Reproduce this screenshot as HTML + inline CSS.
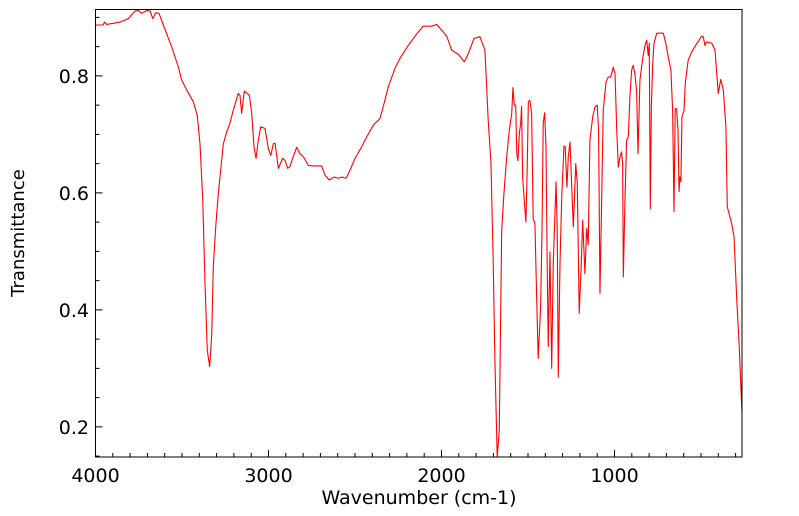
<!DOCTYPE html>
<html><head><meta charset="utf-8"><style>
html,body{margin:0;padding:0;background:#fff;}
svg{display:block;font-family:"DejaVu Sans","Liberation Sans",sans-serif;}
</style></head><body>
<svg id="chart" width="799" height="516">
<g id="ticks"></g>
<path id="line" fill="none" stroke="#ff0000" stroke-width="1.1" stroke-linejoin="round"/>
<rect x="95.5" y="9.5" width="646.5" height="447.5" fill="none" stroke="#000" stroke-width="1"/>
<g id="labels"></g>
<text x="419" y="504" font-size="19" text-anchor="middle">Wavenumber (cm-1)</text>
<text x="0" y="0" font-size="18" text-anchor="middle" transform="translate(24,233) rotate(-90)">Transmittance</text>
</svg>
<script>
const wavenumbers=[4000,3955,3949,3935,3858,3810,3772,3753,3733,3701,3685,3669,3652,3633,3608,3560,3521,3502,3473,3435,3412,3396,3380,3367,3354,3340,3328,3319,3305,3290,3261,3242,3223,3204,3175,3165,3155,3140,3111,3097,3084,3072,3059,3045,3020,3001,2987,2972,2962,2943,2918,2905,2889,2876,2857,2837,2818,2799,2770,2741,2693,2673,2649,2621,2597,2577,2552,2533,2500,2461,2432,2394,2356,2337,2308,2269,2240,2192,2143,2105,2057,2028,1999,1970,1941,1903,1868,1845,1812,1778,1749,1730,1714,1701,1691,1678,1666,1652,1639,1623,1608,1594,1587,1579,1571,1565,1558,1550,1542,1537,1531,1522,1512,1504,1498,1489,1479,1470,1460,1450,1441,1427,1419,1412,1404,1396,1389,1383,1373,1363,1354,1338,1331,1325,1315,1305,1292,1285,1275,1267,1257,1248,1238,1224,1215,1204,1192,1184,1171,1161,1152,1142,1126,1113,1100,1092,1084,1074,1065,1049,1036,1022,1007,997,987,978,968,959,953,949,939,930,920,911,901,892,882,872,864,853,837,824,814,805,799,793,787,779,772,756,718,703,689,674,664,656,649,641,633,627,622,616,610,598,591,574,554,525,496,487,477,467,438,419,409,400,386,371,356,348,323,309,294,279,263];
const transmittance=[0.887,0.887,0.892,0.888,0.892,0.898,0.911,0.912,0.907,0.912,0.911,0.898,0.908,0.907,0.887,0.85,0.815,0.793,0.776,0.756,0.733,0.684,0.588,0.445,0.331,0.303,0.36,0.474,0.542,0.599,0.684,0.704,0.719,0.741,0.77,0.767,0.736,0.774,0.767,0.736,0.679,0.659,0.69,0.713,0.71,0.676,0.664,0.684,0.685,0.642,0.659,0.656,0.642,0.645,0.662,0.678,0.667,0.662,0.647,0.646,0.646,0.63,0.622,0.627,0.625,0.627,0.625,0.636,0.659,0.679,0.696,0.716,0.727,0.747,0.781,0.813,0.83,0.852,0.872,0.885,0.885,0.888,0.878,0.868,0.844,0.837,0.824,0.838,0.864,0.867,0.844,0.724,0.65,0.479,0.309,0.14,0.194,0.536,0.599,0.662,0.707,0.736,0.78,0.75,0.75,0.667,0.655,0.702,0.719,0.748,0.627,0.588,0.55,0.65,0.756,0.758,0.736,0.556,0.548,0.422,0.317,0.405,0.536,0.719,0.737,0.679,0.479,0.337,0.499,0.3,0.479,0.619,0.536,0.285,0.479,0.593,0.68,0.679,0.61,0.662,0.687,0.616,0.542,0.65,0.616,0.394,0.479,0.553,0.462,0.539,0.511,0.69,0.73,0.747,0.75,0.707,0.428,0.593,0.741,0.79,0.798,0.798,0.815,0.804,0.707,0.644,0.662,0.67,0.65,0.456,0.593,0.69,0.696,0.764,0.81,0.818,0.804,0.773,0.667,0.793,0.83,0.852,0.861,0.835,0.856,0.573,0.747,0.821,0.855,0.873,0.873,0.855,0.832,0.81,0.741,0.568,0.744,0.744,0.707,0.602,0.627,0.619,0.73,0.741,0.787,0.827,0.841,0.855,0.868,0.867,0.852,0.858,0.856,0.844,0.804,0.77,0.794,0.776,0.713,0.576,0.548,0.525,0.422,0.337,0.223];
const xTickValues=[4000,3000,2000,1000];
const xTickLabels=["4000","3000","2000","1000"];
const yTickValues=[0.2,0.4,0.6,0.8];
const yTickLabels=["0.2","0.4","0.6","0.8"];

const L=95.5,R=742,T=9.5,B=457;
const wnMax=4000,wnMin=263,yMin=0.1485,yMax=0.9135;
function xs(w){return L+(wnMax-w)/(wnMax-wnMin)*(R-L);}
function ys(v){return B-(v-yMin)/(yMax-yMin)*(B-T);}
const NS="http://www.w3.org/2000/svg";
let d="";
for(let i=0;i<wavenumbers.length;i++){
  let y=Math.min(B,Math.max(T,ys(transmittance[i])));
  d+=(i?"L":"M")+xs(wavenumbers[i]).toFixed(2)+" "+y.toFixed(2);
}
document.getElementById('line').setAttribute('d',d);
const tg=document.getElementById('ticks'),lg=document.getElementById('labels');
function ln(x1,y1,x2,y2){const l=document.createElementNS(NS,'line');
l.setAttribute('x1',x1);l.setAttribute('y1',y1);l.setAttribute('x2',x2);l.setAttribute('y2',y2);
l.setAttribute('stroke','#000');l.setAttribute('stroke-width','1');


tg.appendChild(l);}
for(let w=4000;w>=wnMin;w-=100){const x=xs(w);const major=(w%1000===0);ln(x,B,x,B-(major?7:4));}
for(let v=0.15;v<=yMax;v+=0.05){const y=ys(v);const major=Math.abs(Math.round(v*10)/10-v)<1e-6&&Math.round(v*10)%2===0;ln(L,y,L+(major?7:4),y);}
function txt(x,y,s,anchor,name){const t=document.createElementNS(NS,'text');
t.setAttribute('x',x);t.setAttribute('y',y);t.setAttribute('font-size','19');t.setAttribute('text-anchor',anchor);
t.textContent=s;


lg.appendChild(t);}
xTickValues.forEach((v,i)=>txt(xs(v),482,xTickLabels[i],'middle','x-tick-label'));
yTickValues.forEach((v,i)=>txt(89,ys(v)+7,yTickLabels[i],'end','y-tick-label'));
</script>
</body></html>
